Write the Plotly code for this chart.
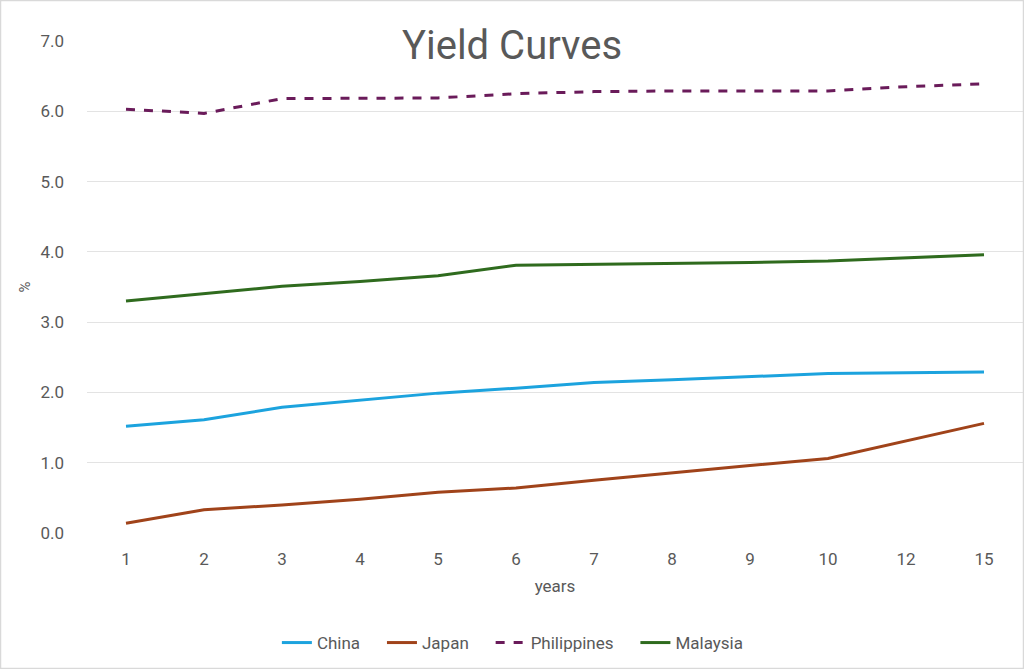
import plotly.graph_objects as go

categories = ["1", "2", "3", "4", "5", "6", "7", "8", "9", "10", "12", "15"]
china = [1.52, 1.61, 1.79, 1.89, 1.99, 2.06, 2.14, 2.18, 2.22, 2.27, 2.28, 2.29]
japan = [0.14, 0.33, 0.40, 0.48, 0.58, 0.64, 0.75, 0.86, 0.96, 1.06, 1.31, 1.56]
philippines = [6.03, 5.97, 6.18, 6.18, 6.19, 6.25, 6.28, 6.29, 6.29, 6.29, 6.35, 6.39]
malaysia = [3.30, 3.41, 3.51, 3.58, 3.66, 3.81, 3.82, 3.84, 3.85, 3.87, 3.92, 3.96]
y_ticks = [0, 1, 2, 3, 4, 5, 6, 7]

series = [
    ("China", china, "#1CA3DE", "solid"),
    ("Japan", japan, "#A0431A", "solid"),
    ("Philippines", philippines, "#6A1B5A", "dash"),
    ("Malaysia", malaysia, "#2F6B1E", "solid"),
]

FONT = "Roboto"
GRAY = "#595959"
PAD = "\u00a0" * 4

fig = go.Figure()
for i, (name, vals, color, dash) in enumerate(series):
    label = name + (PAD if i < len(series) - 1 else "")
    fig.add_trace(go.Scatter(
        x=categories, y=vals, name=label, mode="lines",
        line=dict(color=color, width=3, dash=dash),
    ))

fig.update_layout(
    width=1024, height=669,
    paper_bgcolor="white", plot_bgcolor="white",
    margin=dict(l=87, r=1, t=41, b=136),
    font=dict(family=FONT, color=GRAY, size=17),
    title=dict(text="Yield Curves", x=0.5, xref="container", xanchor="center",
               y=0.932, yref="container", yanchor="middle",
               font=dict(family=FONT, size=40, color=GRAY)),
    showlegend=True,
    legend=dict(orientation="h", x=0.455, xanchor="center",
                y=-0.2236, yanchor="middle",
                font=dict(family=FONT, size=17, color=GRAY), itemwidth=30,
                traceorder="normal"),
    shapes=[dict(type="rect", xref="paper", yref="paper", x0=-86.5/936, x1=1 + 0.5/936,
                 y0=-135.5/492, y1=1 + 40.5/492,
                 line=dict(color="#D9D9D9", width=1.5), fillcolor="rgba(0,0,0,0)")],
)
fig.update_xaxes(
    type="category", range=[-0.5, 11.5], showgrid=False, zeroline=False, showline=False,
    ticks="", tickfont=dict(size=17, color=GRAY), ticklabelstandoff=14,
    title=dict(text="years", font=dict(size=17, color=GRAY), standoff=12),
)
fig.update_yaxes(
    range=[0, 7], tickvals=y_ticks, tickformat=".1f",
    showgrid=True, gridcolor="#E3E3E3", gridwidth=1.2, zeroline=False, showline=False,
    ticks="", tickfont=dict(size=17, color=GRAY), ticklabelstandoff=22,
    title=dict(text="%", font=dict(size=15, color=GRAY), standoff=6),
)

fig.write_html("out.html", config={"displayModeBar": False},
               post_script="document.body.style.margin='0';")
